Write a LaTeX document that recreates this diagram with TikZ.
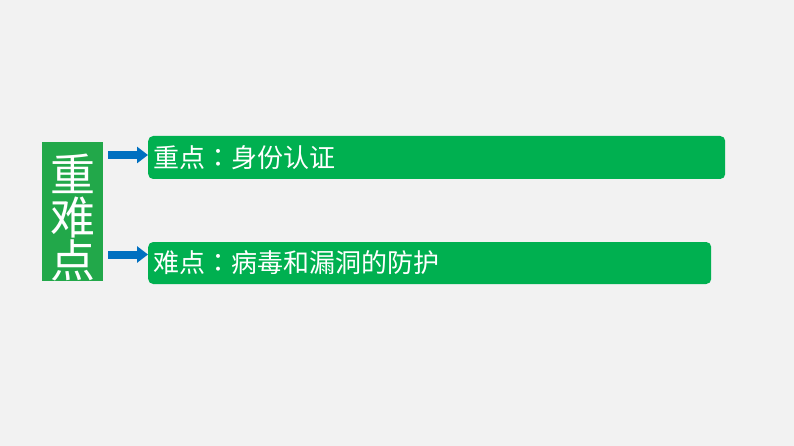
\documentclass[tikz,border=0pt]{standalone}
\usepackage{fontspec}
\newfontfamily\cjk{Noto Sans CJK SC}
\newfontfamily\cjktc{Noto Sans CJK TC}
\newcommand{\colonmark}{{\cjktc ：}}
\usetikzlibrary{arrows.meta}
\definecolor{bargreen}{HTML}{00B050}
\definecolor{boxgreen}{HTML}{22A84A}
\definecolor{arrblue}{HTML}{0070C0}
\definecolor{bggray}{HTML}{F2F2F2}
\tikzset{
  bar/.style={fill=bargreen,rounded corners=5pt,anchor=west,text=white,inner sep=5pt,
    align=left,font=\cjk\fontsize{26}{30}\selectfont},
  arr/.style={draw=arrblue,line width=8pt,-{Triangle[length=11pt,width=16pt]}}
}
\begin{document}
\begin{tikzpicture}[x=1pt,y=-1pt]
                \fill[bggray](0,0)rectangle(794,446);
                \useasboundingbox(0,0)rectangle(794,446);
                \node[fill=boxgreen,minimum width=61pt,minimum height=139pt,inner sep=0pt](Box)at(72.5,211.5){};
                \begin{scope}
                \clip(Box.south west)rectangle(Box.north east);
                \node[text=white,align=center,inner sep=0pt,font=\cjk\fontsize{45}{43}\selectfont](Title)at(72.5,218){重\\难\\点};
                \end{scope}
                \node[bar,minimum height=43pt,text width=567pt](Key)at(148,157.5){重点\colonmark 身份认证};
                \node[bar,minimum height=42pt,text width=553pt](Hard)at(148,263){难点\colonmark 病毒和漏洞的防护};
                \draw[arr]([xshift=5pt,yshift=2.5pt]Box.east |- Key.west) -- ([yshift=2.5pt]Key.west);
                \draw[arr]([xshift=5pt,yshift=8.5pt]Box.east |- Hard.west) -- ([yshift=8.5pt]Hard.west);
            \end{tikzpicture}
\end{document}
